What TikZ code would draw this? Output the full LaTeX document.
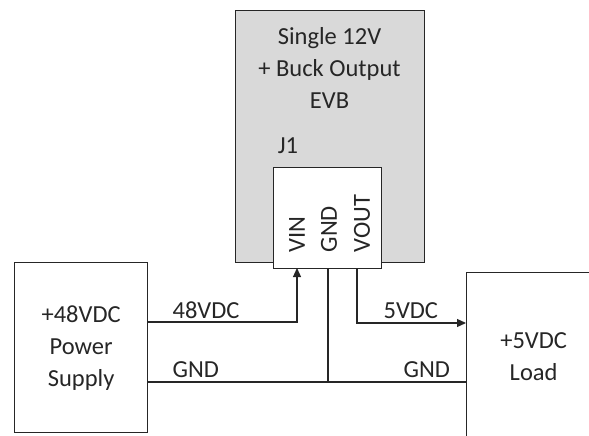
\documentclass[tikz,border=0pt]{standalone}
\usepackage{fontspec}
\setmainfont{Carlito}
\usetikzlibrary{arrows.meta}

\begin{document}
\begin{tikzpicture}[
    x=1pt, y=-1pt,
    >={Triangle[length=9pt,width=8pt]},
    line width=1.2pt,
    every node/.style={font=\fontsize{24.5}{32}\selectfont, text=black!85},
    boxnode/.style={draw=black!85, line width=1.3pt, anchor=north west, align=center, inner sep=0pt},
    pinlabel/.style={rotate=90, anchor=west, inner sep=0pt},
    wire/.style={draw=black!85, line width=1.2pt}
]

    \useasboundingbox (0,0) rectangle (589,436);

    % --- The EVB and its connector ---
    \node[boxnode, fill=black!15, minimum width=189pt, minimum height=252pt] (evb) at (235,10) {};
    \node[align=center, inner sep=0pt] (evbtitle) at (329.5,68) {Single 12V\\+ Buck Output\\EVB};
    \node[anchor=base, inner sep=0pt] (j1label) at (288,153) {J1};
    \node[boxnode, fill=white, minimum width=108pt, minimum height=101pt] (j1) at (273,167) {};

    \node[pinlabel] (pinvin) at (297,253) {VIN};
    \node[pinlabel] (pingnd) at (329,253) {GND};
    \node[pinlabel] (pinvout) at (362,253) {VOUT};

    % --- Supply and Load ---
    \node[boxnode, minimum width=133pt, minimum height=170pt] (psu) at (14,262) {+48VDC\\Power\\Supply};
    \node[boxnode, minimum width=134pt, minimum height=168pt] (load) at (466,272) {+5VDC\\Load};

    % --- Wiring ---
    \coordinate (vin) at (297,268);
    \coordinate (gnd) at (328,268);
    \coordinate (vout) at (357,268);
    \coordinate (ps48) at (147,322);
    \coordinate (psgnd) at (147,382);
    \coordinate (ld5) at (466,323);
    \coordinate (ldgnd) at (466,382);

    \draw[wire, ->] (ps48) -| (vin);
    \draw[wire, ->] (vout) |- (ld5);
    \draw[wire] (psgnd) -- (ldgnd);
    \draw[wire] (gnd) -- (gnd |- psgnd);

    \node[anchor=base west, inner sep=0pt] (l48) at (172,318) {48VDC};
    \node[anchor=base west, inner sep=0pt] (lgnd1) at (172,377) {GND};
    \node[anchor=base west, inner sep=0pt] (l5) at (383,318) {5VDC};
    \node[anchor=base west, inner sep=0pt] (lgnd2) at (403,377) {GND};

\end{tikzpicture}
\end{document}
